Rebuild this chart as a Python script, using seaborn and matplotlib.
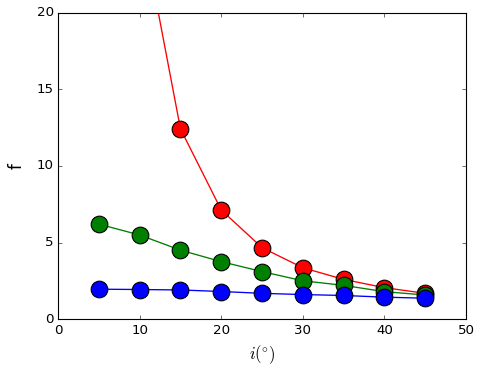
import matplotlib
matplotlib.use("Agg")
import matplotlib.pyplot as plt
import seaborn as sns
import pandas as pd

angles = [5, 10, 15, 20, 25, 30, 35, 40, 45]
f_red = [100.0, 26.4, 12.42, 7.12, 4.66, 3.35, 2.59, 2.05, 1.68]
f_green = [6.2, 5.49, 4.5, 3.75, 3.1, 2.5, 2.2, 1.79, 1.57]
f_blue = [1.95, 1.93, 1.9, 1.8, 1.68, 1.6, 1.54, 1.43, 1.36]
series = [("red", f_red, "#ff0000"), ("green", f_green, "#008000"), ("blue", f_blue, "#0000ff")]

plt.style.use("classic")
fig = plt.figure(figsize=(6.05, 4.6), dpi=80)
ax = fig.add_axes([0.12, 0.133, 0.843, 0.832])

for name, vals, col in series:
    df = pd.DataFrame({"i": angles, "f": vals})
    sns.lineplot(data=df, x="i", y="f", ax=ax, color=col, marker="o",
                 markersize=15, markeredgecolor="black", markeredgewidth=1,
                 linewidth=1.2, legend=False)

ax.set_xlim(0, 50)
ax.set_ylim(0, 20)
ax.set_xticks([0, 10, 20, 30, 40, 50])
ax.set_yticks([0, 5, 10, 15, 20])
ax.set_xlabel(r"$i(^{\circ})$", fontsize=15, labelpad=6)
ax.set_ylabel("f", fontsize=15, labelpad=10)
fig.savefig("out.png", dpi=80)
